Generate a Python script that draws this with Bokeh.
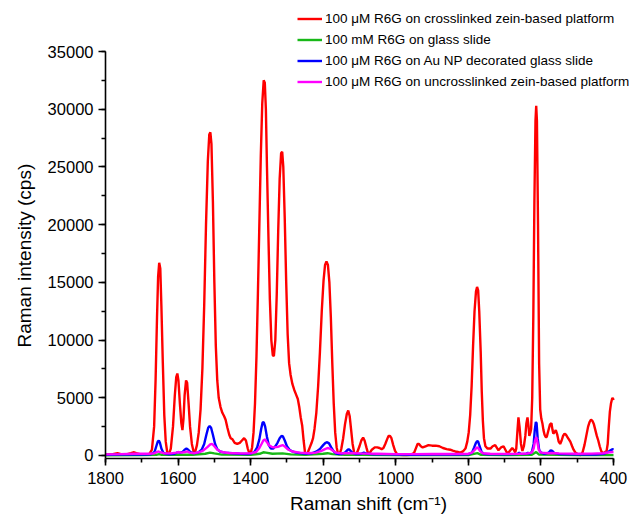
from bokeh.plotting import figure
from bokeh.models import (ColumnDataSource, Range1d, SingleIntervalTicker, Legend, LegendItem, Title)
from bokeh.embed import file_html
from bokeh.resources import INLINE

# ---------------- data ----------------
red_x = [1800, 1790, 1780, 1767, 1755, 1740, 1730, 1723, 1715, 1700, 1690, 1680,
         1672, 1666, 1662, 1658, 1655, 1652, 1649, 1646, 1642, 1638, 1634, 1630, 1626,
         1620, 1614, 1609, 1605, 1602, 1599, 1595, 1591, 1588, 1585, 1582, 1578, 1575,
         1571, 1567, 1562, 1557, 1553, 1548, 1543, 1538, 1533, 1528, 1523, 1518, 1514,
         1511, 1508, 1504, 1500, 1496, 1492, 1488, 1483, 1478, 1473, 1469, 1464, 1459,
         1455, 1450, 1444, 1437, 1430, 1424, 1418, 1413, 1408, 1404, 1400, 1396, 1392,
         1388, 1384, 1380, 1376, 1372, 1368, 1364, 1361, 1358, 1355, 1351, 1347, 1343,
         1339, 1336, 1332, 1328, 1324, 1320, 1316, 1313, 1310, 1306, 1302, 1298, 1294,
         1290, 1285, 1280, 1275, 1270, 1266, 1262, 1258, 1254, 1250, 1247, 1242, 1237,
         1232, 1228, 1224, 1219, 1214, 1209, 1204, 1199, 1195, 1191, 1187, 1183, 1179,
         1175, 1171, 1167, 1163, 1159, 1155, 1150, 1145, 1140, 1135, 1131, 1127, 1123,
         1119, 1115, 1111, 1106, 1100, 1095, 1090, 1086, 1081, 1077, 1072, 1066, 1058,
         1051, 1045, 1039, 1034, 1029, 1024, 1020, 1016, 1012, 1007, 1002, 997, 990,
         980, 970, 960, 950, 945, 940, 936, 931, 926, 918, 910, 900, 890, 880, 870, 860,
         850, 843, 836, 829, 822, 815, 808, 803, 799, 795, 791, 787, 783, 779, 776, 773,
         770, 766, 763, 760, 757, 753, 747, 739, 733, 726, 720, 717, 710, 703, 698, 693,
         688, 683, 679, 675, 671, 668, 665, 662, 659, 655, 651, 647, 643, 640, 637, 634,
         632, 629, 627, 624, 621, 618, 615, 613, 611, 608, 605, 602, 599, 596, 593, 590,
         587, 584, 580, 575, 571, 568, 566, 563, 559, 555, 551, 547, 543, 539, 535, 531,
         527, 523, 519, 514, 510, 505, 500, 495, 490, 485, 480, 475, 470, 466, 462, 458,
         454, 450, 446, 442, 438, 434, 431, 427, 423, 419, 416, 413, 410, 407, 404, 402, 400]
red_y = [80, 100, 120, 200, 100, 120, 200, 280, 200, 80, 60, 100,
         500, 2500, 6500, 12000, 15500, 16700, 16200, 13000, 8000, 3500, 1200, 300, 50,
         600, 2500, 5200, 6800, 7100, 6500, 4500, 2800, 2200, 3200, 5200, 6500, 6300,
         4500, 2500, 1000, 300, 300, 900, 2000, 4000, 7500, 13000, 20000, 25500, 27800,
         28000, 27000, 22000, 15000, 9500, 6500, 5000, 4200, 3700, 3400, 3100, 2400, 1800,
         1500, 1400, 1100, 1000, 1100, 1300, 1500, 1300, 600, 250, 200, 700, 2000,
         4500, 8500, 14000, 20000, 26000, 30500, 32500, 32300, 30000, 25000, 19000, 13500, 10000,
         8700, 8600, 10000, 14000, 19500, 24000, 26200, 26300, 25000, 20500, 15000, 10500, 8000,
         7000, 6200, 5700, 5300, 4900, 4200, 3300, 2600, 1300, 200, 50, 300, 700,
         1100, 1500, 2300, 3700, 6000, 9000, 12500, 15200, 16500, 16800, 16500, 15000, 12000,
         8000, 4500, 2000, 700, 150, 100, 600, 1500, 2700, 3600, 3900, 3400, 2200,
         1000, 300, 100, 300, 800, 1300, 1550, 1300, 700, 250, 200, 500, 700,
         700, 650, 550, 650, 1000, 1400, 1700, 1700, 1500, 900, 400, 150, 50,
         30, 40, 60, 200, 600, 1000, 1000, 800, 700, 800, 900, 850, 850, 800, 650, 550,
         500, 420, 350, 300, 250, 350, 600, 1200, 2000, 3500, 6000, 9500, 12500, 14200, 14600, 14300,
         12500, 9000, 5500, 3000, 1500, 800, 600, 600, 800, 900, 600, 450, 700, 800, 500, 200,
         300, 500, 650, 500, 260, 600, 2000, 3300, 2500, 1000, 400, 800, 1700, 2800, 3300, 2500,
         1700, 2000, 2300, 5000, 12000, 22000, 29000, 30300, 29000, 20000, 8000, 4000, 3200, 2800, 2200, 1800,
         1600, 1600, 2100, 2700, 2800, 2200, 1900, 2000, 2200, 1800, 1200, 1000, 1300, 1700, 1900, 1800,
         1600, 1400, 1200, 800, 500, 250, 150, 50, 40, 300, 900, 1700, 2500, 2900, 3100, 3000,
         2700, 2200, 1700, 1300, 800, 400, 250, 200, 300, 400, 1000, 2500, 3800, 4500, 4900, 5000, 4800]

green_x = [1800, 1700, 1660, 1652, 1645, 1600, 1580, 1560, 1525, 1512, 1500, 1480, 1400,
           1375, 1365, 1358, 1340, 1312, 1290, 1250, 1200, 1188, 1175, 1140, 1125, 1100,
           1000, 900, 800, 775, 765, 700, 625, 613, 605, 500, 400]
green_y = [20, 30, 60, 120, 60, 50, 70, 60, 150, 250, 180, 80, 60,
           150, 280, 250, 150, 180, 100, 60, 150, 200, 120, 50, 80, 50,
           30, 30, 40, 200, 60, 30, 60, 300, 80, 40, 30]

blue_x = [1800, 1760, 1720, 1690, 1675, 1665, 1660, 1656, 1653, 1650, 1646, 1641, 1635,
          1625, 1610, 1600, 1595, 1588, 1582, 1577, 1572, 1566, 1558, 1545, 1535, 1528,
          1522, 1517, 1513, 1509, 1504, 1498, 1492, 1485, 1470, 1450, 1430, 1410, 1400,
          1390, 1382, 1376, 1371, 1367, 1364, 1360, 1355, 1350, 1344, 1338, 1332, 1326,
          1320, 1315, 1311, 1306, 1300, 1293, 1285, 1275, 1260, 1245, 1230, 1218, 1208,
          1200, 1194, 1189, 1184, 1178, 1171, 1163, 1150, 1140, 1134, 1130, 1126, 1120,
          1110, 1095, 1088, 1080, 1060, 1020, 1000, 960, 900, 840, 800, 790, 784, 779,
          776, 773, 769, 764, 758, 745, 700, 665, 660, 655, 640, 636, 632, 625, 620, 617,
          614, 612, 609, 605, 600, 590, 578, 573, 569, 563, 550, 520, 480, 450, 425, 415,
          408, 403, 400]
blue_y = [50, 80, 100, 80, 100, 300, 800, 1200, 1300, 1100, 600, 250, 150,
          100, 150, 300, 250, 300, 500, 600, 500, 300, 200, 250, 500, 1000,
          1800, 2400, 2550, 2400, 1800, 1000, 550, 350, 250, 200, 150, 130, 150,
          300, 700, 1400, 2300, 2850, 2900, 2500, 1600, 900, 600, 600, 800, 1100,
          1500, 1700, 1650, 1300, 800, 500, 350, 250, 200, 150, 200, 350, 600,
          900, 1100, 1150, 1050, 700, 350, 150, 120, 250, 450, 550, 450, 250,
          120, 150, 250, 150, 100, 100, 80, 60, 80, 80, 100, 250, 700, 1100,
          1250, 1200, 800, 350, 150, 100, 100, 120, 250, 120, 150, 250, 150, 300, 1000, 2200,
          2900, 2800, 1500, 500, 250, 150, 250, 450, 400, 200, 120, 100, 80, 80, 150, 300,
          450, 550, 500]

magenta_x = [1800, 1760, 1720, 1680, 1665, 1655, 1650, 1640, 1620, 1605, 1600, 1590, 1580,
             1575, 1568, 1555, 1540, 1530, 1520, 1512, 1506, 1500, 1492, 1480, 1460, 1430,
             1400, 1385, 1377, 1370, 1365, 1361, 1356, 1350, 1342, 1335, 1325, 1316, 1311,
             1305, 1296, 1285, 1265, 1240, 1220, 1205, 1195, 1188, 1182, 1175, 1165, 1150,
             1130, 1100, 1050, 1000, 950, 900, 850, 800, 790, 782, 777, 773, 768, 760, 740,
             700, 660, 640, 625, 620, 616, 613, 610, 606, 600, 580, 570, 550, 500, 460, 430,
             410, 400]
magenta_y = [100, 120, 150, 150, 200, 350, 300, 200, 180, 250, 300, 250, 300,
             350, 250, 200, 300, 450, 700, 950, 1000, 800, 500, 300, 220, 180,
             180, 300, 600, 1000, 1300, 1400, 1200, 900, 750, 700, 750, 850, 900,
             750, 500, 350, 250, 200, 250, 400, 550, 650, 600, 450, 250, 180,
             220, 180, 150, 120, 120, 130, 130, 150, 250, 500, 700, 650, 400, 200, 150,
             140, 150, 160, 250, 600, 1300, 1600, 1200, 500, 250, 200, 220, 180, 150, 160, 200,
             280, 300]

series_labels = ["100 μM R6G on crosslinked zein-based platform",
                 "100 mM R6G on glass slide",
                 "100 μM R6G on Au NP decorated glass slide",
                 "100 μM R6G on uncrosslinked zein-based platform"]
series_colors = ["#ff0000", "#18b818", "#0000ff", "#ff00ff"]

x_title = "Raman shift (cm⁻¹)"
y_title = "Raman intensity (cps)"

FONT = "Liberation Sans"

# axis extents (data) and the visible window around them
X_LO, X_HI = 400, 1800
Y_LO, Y_HI = -260, 35000

# pixel layout: axes span x 105..613, y 51..458; frame extends to the canvas edge
FRAME_W, FRAME_H = 526, 458
px_per_x = 508 / (X_HI - X_LO)
px_per_y = 407 / (Y_HI - Y_LO)
x_end = X_LO - (FRAME_W - 508) / px_per_x
y_end = Y_HI + (FRAME_H - 407) / px_per_y

p = figure(output_backend="svg", toolbar_location=None,
           width=631, height=519,
           frame_width=FRAME_W, frame_height=FRAME_H,
           min_border_left=105, min_border_right=0,
           min_border_top=0, min_border_bottom=61,
           x_range=Range1d(X_HI, x_end), y_range=Range1d(Y_LO, y_end))
p.outline_line_color = None
p.xgrid.visible = False
p.ygrid.visible = False
p.background_fill_color = "white"
p.border_fill_color = "white"

data = [(red_x, red_y), (green_x, green_y), (blue_x, blue_y), (magenta_x, magenta_y)]
renderers = []
for (xs, ys), col in zip(data, series_colors):
    src = ColumnDataSource(dict(x=xs, y=ys))
    r = p.line("x", "y", source=src, line_color=col, line_width=2.4)
    renderers.append(r)

# axes
p.xaxis.ticker = SingleIntervalTicker(interval=200, num_minor_ticks=2)
p.yaxis.ticker = SingleIntervalTicker(interval=5000, num_minor_ticks=2)
p.xaxis.bounds = (X_LO - 0.1, X_HI + 0.1)
p.yaxis.bounds = (Y_LO, Y_HI + 1)
for ax in (p.xaxis[0], p.yaxis[0]):
    ax.axis_line_width = 1.6
    ax.axis_line_color = "black"
    ax.major_tick_line_width = 1.6
    ax.minor_tick_line_width = 1.6
    ax.major_tick_line_color = "black"
    ax.minor_tick_line_color = "black"
    ax.major_tick_out = 7
    ax.major_tick_in = 0
    ax.minor_tick_out = 4
    ax.minor_tick_in = 0
    ax.major_label_text_font = FONT
    ax.major_label_text_font_size = "16.5px"
    ax.major_label_text_color = "black"
    ax.axis_label_text_font = FONT
    ax.axis_label_text_font_size = "19px"
    ax.axis_label_text_font_style = "normal"
    ax.axis_label_text_color = "black"

p.xaxis.axis_label = x_title
p.xaxis.major_label_standoff = 6
p.yaxis.major_label_standoff = 5
p.xaxis.axis_label_standoff = 6

# y title centred on the drawn axis (51..458 px) rather than on the taller frame
ytitle = Title(text=y_title, align="left", offset=111, standoff=20,
               text_font=FONT, text_font_size="19px", text_font_style="normal",
               text_color="black")
p.add_layout(ytitle, "left")

legend = Legend(items=[LegendItem(label=lab, renderers=[r])
                       for lab, r in zip(series_labels, renderers)],
                location=(192, 366),
                border_line_color=None, background_fill_alpha=0,
                padding=0, margin=0, spacing=0,
                glyph_width=25, glyph_height=21, label_height=21,
                label_standoff=3,
                label_text_font=FONT, label_text_font_size="13.5px",
                label_text_color="black")
p.add_layout(legend, "center")

open("out.html", "w").write(file_html(p, INLINE))
